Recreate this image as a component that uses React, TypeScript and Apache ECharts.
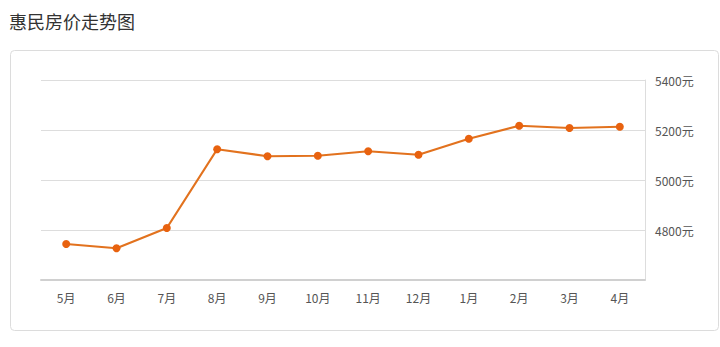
import React, { useEffect, useRef } from "react";
import * as echarts from "echarts";

const title = "惠民房价走势图";
const months = ["5月", "6月", "7月", "8月", "9月", "10月", "11月", "12月", "1月", "2月", "3月", "4月"];
const prices = [4744, 4727, 4808, 5123, 5095, 5097, 5115, 5101, 5165, 5217, 5208, 5213];
const yMin = 4600;
const yMax = 5400;
const yStep = 200;
const unit = "元";

export default function App() {
  const ref = useRef<HTMLDivElement>(null);
  useEffect(() => {
    document.body.style.margin = "0";
    const chart = echarts.init(ref.current!, null, { renderer: "svg" });
    chart.setOption({
      animation: false,
      backgroundColor: "#fff",
      textStyle: { fontFamily: "'Noto Sans CJK SC', 'Noto Sans', sans-serif" },
      title: {
        text: title,
        left: 4,
        top: 7,
        textStyle: { fontSize: 18, fontWeight: "normal", color: "#333", fontFamily: "'Noto Sans CJK SC'" },
      },
      graphic: [
        {
          type: "rect",
          shape: { x: 10.5, y: 50.5, width: 708, height: 280, r: 4 },
          style: { fill: "none", stroke: "#dcdcdc", lineWidth: 1 },
          silent: true,
          z: -1,
        },
      ],
      grid: { left: 41, right: 75, top: 80, bottom: 67 },
      xAxis: {
        type: "category",
        data: months,
        boundaryGap: true,
        axisLine: { lineStyle: { color: "#d0d0d0", width: 2 } },
        axisTick: { alignWithLabel: true, length: 5, lineStyle: { color: "#d8d8d8" } },
        axisLabel: { color: "#555", fontSize: 12, margin: 11 },
      },
      yAxis: {
        type: "value",
        position: "right",
        min: yMin,
        max: yMax,
        interval: yStep,
        axisLine: { show: true, lineStyle: { color: "#dddddd" } },
        axisTick: { show: false },
        splitLine: { lineStyle: { color: "#dddddd" } },
        axisLabel: {
          color: "#555",
          fontSize: 12,
          margin: 10,
          formatter: (v: number) => (v === yMin ? "" : v + unit),
        },
      },
      series: [
        {
          type: "line",
          data: prices,
          symbol: "circle",
          symbolSize: 8,
          lineStyle: { color: "#e2721e", width: 2.2 },
          itemStyle: { color: "#e8620f" },
        },
      ],
    });
    return () => chart.dispose();
  }, []);
  return <div ref={ref} style={{ width: 720, height: 347 }} />;
}
